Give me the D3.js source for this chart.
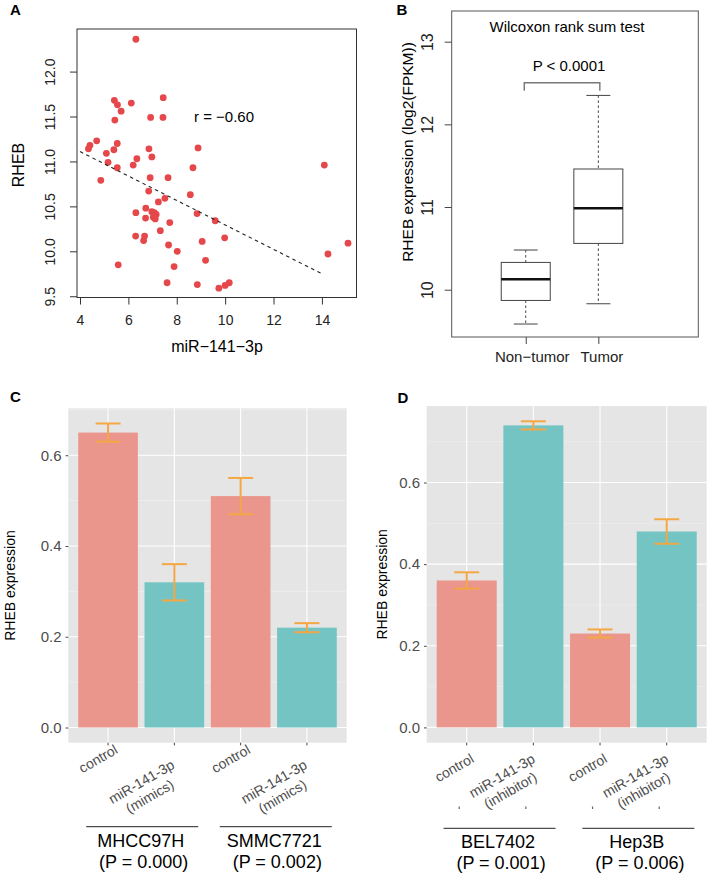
<!DOCTYPE html>
<html>
<head>
<meta charset="utf-8">
<script src="https://cdn.jsdelivr.net/npm/d3@7"></script>
<style>
  body { margin: 0; background: #fff; }
  svg { display: block; font-family: "Liberation Sans", Arial, Helvetica, sans-serif; }
</style>
</head>
<body>
<svg id="fig" width="710" height="876"></svg>
<script>
// ---- panel A: miR-141-3p vs RHEB scatter
const mirX = [6.31, 5.42, 5.55, 5.70, 5.44, 6.12, 7.44, 6.92, 7.43, 4.35, 4.41, 4.69, 5.09, 5.16, 5.40,
  5.54, 5.54, 4.86, 6.20, 6.35, 6.85, 6.97, 8.88, 8.67, 6.90, 7.64, 6.84, 8.56, 7.51, 7.24, 6.31, 6.72,
  6.71, 6.97, 7.07, 7.15, 7.03, 7.11, 7.71, 7.32, 8.84, 9.59, 6.30, 6.67, 6.63, 7.66, 8.02, 9.05, 9.98,
  9.19, 7.89, 5.58, 7.60, 8.85, 9.74, 10.00, 10.17, 14.10, 14.25, 15.08];
const rhebY = [12.36, 11.68, 11.63, 11.56, 11.46, 11.65, 11.71, 11.49, 11.49, 11.14, 11.18, 11.23, 11.09,
  10.99, 11.13, 11.20, 10.93, 10.79, 10.96, 11.03, 11.14, 11.05, 11.15, 10.93, 10.82, 10.82, 10.67, 10.63,
  10.59, 10.55, 10.43, 10.48, 10.37, 10.44, 10.43, 10.41, 10.38, 10.36, 10.32, 10.23, 10.42, 10.34, 10.17,
  10.17, 10.12, 10.07, 10.00, 10.11, 10.15, 9.90, 9.83, 9.85, 9.65, 9.63, 9.59, 9.62, 9.65, 10.96, 9.97, 10.09];
const fitLine = [[4, 11.11], [14, 9.75]];
const aTicksX = [4, 6, 8, 10, 12, 14];
const aTicksY = [9.5, 10, 10.5, 11, 11.5, 12];

// ---- panel B: boxplot
const boxGroups = ["Non\u2212tumor", "Tumor"];
const boxStats = [
  { lo: 9.585, q1: 9.87, med: 10.125, q3: 10.33, hi: 10.48 },
  { lo: 9.83, q1: 10.56, med: 10.985, q3: 11.46, hi: 12.35 }
];
const bTicksY = [10, 11, 12, 13];

// ---- panels C and D: bar charts
const cLabels = ["control", "miR-141-3p\n(mimics)", "control", "miR-141-3p\n(mimics)"];
const cValues = [0.65, 0.32, 0.51, 0.22];
const cErrors = [0.02, 0.04, 0.04, 0.01];
const cGroups = ["MHCC97H", "SMMC7721"];
const cPvals = ["(P = 0.000)", "(P = 0.002)"];

const dLabels = ["control", "miR-141-3p\n(inhibitor)", "control", "miR-141-3p\n(inhibitor)"];
const dValues = [0.36, 0.74, 0.23, 0.48];
const dErrors = [0.02, 0.01, 0.01, 0.03];
const dGroups = ["BEL7402", "Hep3B"];
const dPvals = ["(P = 0.001)", "(P = 0.006)"];

const barKind = ["control", "treat", "control", "treat"];
const barColor = { control: "#ea968d", treat: "#73c4c3" };
const errColor = "#f4a743";

const svg = d3.select("#fig");

function panelLetter(t, x, y) {
  svg.append("text").attr("x", x).attr("y", y).attr("font-size", 15)
    .attr("font-weight", "bold").text(t);
}

// ================= A =================
(function () {
  const L = 77, R = 356.5, T = 29, B = 297.5;
  const x = d3.scaleLinear().domain([3.876, 15.43]).range([L, R]);
  const y = d3.scaleLinear().domain([9.486, 12.474]).range([B, T]);
  const g = svg.append("g");

  g.selectAll("circle").data(mirX).join("circle")
    .attr("cx", d => x(d)).attr("cy", (d, i) => y(rhebY[i]))
    .attr("r", 3.4).attr("fill", "#e5474a");

  g.append("path").attr("d", d3.line().x(d => x(d[0])).y(d => y(d[1]))(fitLine))
    .attr("stroke", "#222").attr("stroke-width", 1.1).attr("stroke-dasharray", "3.5,3.5")
    .attr("fill", "none");

  g.append("rect").attr("x", L).attr("y", T).attr("width", R - L).attr("height", B - T)
    .attr("fill", "none").attr("stroke", "#333").attr("stroke-width", 1);

  const ax = g.append("g").attr("transform", `translate(0,${B})`)
    .call(d3.axisBottom(x).tickValues(aTicksX).tickSize(7).tickFormat(d3.format("d")));
  ax.select(".domain").remove();
  ax.selectAll("line").attr("stroke", "#333");
  ax.selectAll("text").attr("y", 27).attr("dy", 0).attr("font-size", 14)
    .attr("font-family", null).attr("fill", "#222");

  const ay = g.append("g").attr("transform", `translate(${L},0)`)
    .call(d3.axisLeft(y).tickValues(aTicksY).tickSize(7).tickFormat(d3.format(".1f")));
  ay.select(".domain").remove();
  ay.selectAll("line").attr("stroke", "#333");
  ay.selectAll("text").attr("x", 0).attr("y", 0).attr("dy", 0)
    .attr("text-anchor", "middle").attr("transform", "translate(-22,0) rotate(-90)")
    .attr("font-size", 14).attr("font-family", null).attr("fill", "#222");

  svg.append("text").attr("x", 217).attr("y", 352).attr("text-anchor", "middle")
    .attr("font-size", 16).text("miR\u2212141\u22123p");
  svg.append("text").attr("transform", "translate(24,165) rotate(-90)")
    .attr("text-anchor", "middle").attr("font-size", 16).text("RHEB");
  svg.append("text").attr("x", 194).attr("y", 122).attr("font-size", 15)
    .text("r = \u22120.60");
  panelLetter("A", 10, 15);
})();

// ================= B =================
(function () {
  const L = 451.7, R = 698.3, T = 11, B = 337;
  const x = d3.scaleLinear().domain([-0.02, 3.377]).range([L, R]);
  const y = d3.scaleLinear().domain([9.428, 13.371]).range([B, T]);
  const g = svg.append("g");
  const bw = 0.675, cw = 0.33;

  boxStats.forEach((s, i) => {
    const cx = x(i + 1);
    const hw = (x(bw) - x(0)) / 2, cwh = (x(cw) - x(0)) / 2;
    g.append("line").attr("x1", cx).attr("x2", cx).attr("y1", y(s.hi)).attr("y2", y(s.q3))
      .attr("stroke", "#444").attr("stroke-dasharray", "2.5,2.5");
    g.append("line").attr("x1", cx).attr("x2", cx).attr("y1", y(s.q1)).attr("y2", y(s.lo))
      .attr("stroke", "#444").attr("stroke-dasharray", "2.5,2.5");
    [s.hi, s.lo].forEach(v => g.append("line").attr("x1", cx - cwh).attr("x2", cx + cwh)
      .attr("y1", y(v)).attr("y2", y(v)).attr("stroke", "#444"));
    g.append("rect").attr("x", cx - hw).attr("width", 2 * hw)
      .attr("y", y(s.q3)).attr("height", y(s.q1) - y(s.q3))
      .attr("fill", "#fff").attr("stroke", "#444");
    g.append("line").attr("x1", cx - hw).attr("x2", cx + hw).attr("y1", y(s.med)).attr("y2", y(s.med))
      .attr("stroke", "#111").attr("stroke-width", 2.5);
  });

  g.append("rect").attr("x", L).attr("y", T).attr("width", R - L).attr("height", B - T)
    .attr("fill", "none").attr("stroke", "#555").attr("stroke-width", 1);

  const ax = g.append("g").attr("transform", `translate(0,${B})`)
    .call(d3.axisBottom(x).tickValues([1, 2]).tickSize(7).tickFormat((d, i) => boxGroups[i]));
  ax.select(".domain").remove();
  ax.selectAll("line").attr("stroke", "#444");
  ax.selectAll("text").attr("y", 25).attr("dy", 0).attr("font-size", 15)
    .attr("font-family", null).attr("fill", "#222")
    .attr("dx", (d, i) => i === 0 ? 6 : 3);

  const ay = g.append("g").attr("transform", `translate(${L},0)`)
    .call(d3.axisLeft(y).tickValues(bTicksY).tickSize(7).tickFormat(d3.format("d")));
  ay.select(".domain").remove();
  ay.selectAll("line").attr("stroke", "#444");
  ay.selectAll("text").attr("x", 0).attr("y", 0).attr("dy", 0)
    .attr("text-anchor", "middle").attr("transform", "translate(-18.5,0) rotate(-90)")
    .attr("font-size", 16).attr("font-family", null).attr("fill", "#222");

  // significance bracket
  const bx1 = x(1) - 1.5, bx2 = x(2) + 1.5, by = 82.7;
  g.append("path").attr("d", `M${bx1},${by + 8}V${by}H${bx2}V${by + 8}`)
    .attr("fill", "none").attr("stroke", "#777").attr("stroke-width", 1.4);
  g.append("text").attr("x", 569).attr("y", 70.5).attr("text-anchor", "middle")
    .attr("font-size", 15).text("P < 0.0001");
  g.append("text").attr("x", 567).attr("y", 31.5).attr("text-anchor", "middle")
    .attr("font-size", 15).text("Wilcoxon rank sum test");
  svg.append("text").attr("transform", "translate(413,152) rotate(-90)")
    .attr("text-anchor", "middle").attr("font-size", 15.5)
    .text("RHEB expression (log2(FPKM))");
  panelLetter("B", 396.5, 15);
})();

// ================= C & D =================
function barPanel(opt) {
  const { L, R, T, B, values, errors, labels, groups, pvals } = opt;
  const top = d3.max(values, (v, i) => v + errors[i]);
  const y = d3.scaleLinear().domain([-0.05 * top, top * 1.05]).range([B, T]);
  const x = d3.scaleBand().domain(d3.range(values.length)).range([L, R])
    .paddingInner(0.1).paddingOuter(0.15);
  const g = svg.append("g");

  g.append("rect").attr("x", L).attr("y", T).attr("width", R - L).attr("height", B - T)
    .attr("fill", "#e5e5e5");
  const major = [0, 0.2, 0.4, 0.6];
  const minor = [0.1, 0.3, 0.5, 0.7].filter(v => y(v) > T);
  g.selectAll(".minor").data(minor).join("line").attr("class", "minor")
    .attr("x1", L).attr("x2", R).attr("y1", d => y(d)).attr("y2", d => y(d))
    .attr("stroke", "#f2f2f2").attr("stroke-width", 0.6);
  g.selectAll(".major").data(major).join("line").attr("class", "major")
    .attr("x1", L).attr("x2", R).attr("y1", d => y(d)).attr("y2", d => y(d))
    .attr("stroke", "#fff").attr("stroke-width", 1.1);
  g.selectAll(".vgrid").data(d3.range(values.length)).join("line").attr("class", "vgrid")
    .attr("x1", d => x(d) + x.bandwidth() / 2).attr("x2", d => x(d) + x.bandwidth() / 2)
    .attr("y1", T).attr("y2", B).attr("stroke", "#fff").attr("stroke-width", 1.1);

  g.selectAll(".bar").data(values).join("rect").attr("class", "bar")
    .attr("x", (d, i) => x(i)).attr("width", x.bandwidth())
    .attr("y", d => y(d)).attr("height", d => y(0) - y(d))
    .attr("fill", (d, i) => barColor[barKind[i]]);

  const cap = 12.5;
  values.forEach((v, i) => {
    const cx = x(i) + x.bandwidth() / 2;
    const eg = g.append("g").attr("stroke", errColor).attr("stroke-width", 2);
    eg.append("line").attr("x1", cx).attr("x2", cx).attr("y1", y(v + errors[i])).attr("y2", y(v - errors[i]));
    [v + errors[i], v - errors[i]].forEach(e => eg.append("line")
      .attr("x1", cx - cap).attr("x2", cx + cap).attr("y1", y(e)).attr("y2", y(e)));
  });

  const ay = g.append("g").attr("transform", `translate(${L},0)`)
    .call(d3.axisLeft(y).tickValues(major).tickSize(2.7).tickPadding(4).tickFormat(d3.format(".1f")));
  ay.select(".domain").remove();
  ay.selectAll("line").attr("stroke", "#444");
  ay.selectAll("text").attr("font-size", 15).attr("font-family", null).attr("fill", "#4d4d4d");

  const axb = g.append("g").attr("transform", `translate(0,${B})`)
    .call(d3.axisBottom(x).tickSize(2.7).tickFormat(""));
  axb.select(".domain").remove();
  axb.selectAll("line").attr("stroke", "#444");

  // rotated category labels
  labels.forEach((lab, i) => {
    const cx = x(i) + x.bandwidth() / 2;
    const lines = lab.split("\n");
    const pos = lines.length === 1 ? opt.single : opt.double;
    const lg = svg.append("g")
      .attr("transform", `translate(${cx + pos[0]},${pos[1]}) rotate(-30)`);
    lines.forEach((ln, k) => lg.append("text").attr("x", 0).attr("y", k * 16.8)
      .attr("text-anchor", "middle").attr("font-size", 14).attr("fill", "#4d4d4d").text(ln));
    if (opt.dots) {
      svg.append("line").attr("x1", cx - 7.5).attr("x2", cx - 7.5)
        .attr("y1", opt.dots).attr("y2", opt.dots + 2.5).attr("stroke", "#666").attr("stroke-width", 1.2);
    }
  });

  // cell line groups
  groups.forEach((name, j) => {
    const c = (x(2 * j) + x(2 * j + 1) + x.bandwidth()) / 2 + opt.groupShift[j];
    svg.append("line").attr("x1", c - 56).attr("x2", c + 56)
      .attr("y1", opt.lineY).attr("y2", opt.lineY).attr("stroke", "#222").attr("stroke-width", 1);
    svg.append("text").attr("x", c - 1.5).attr("y", opt.lineY + 20).attr("text-anchor", "middle")
      .attr("font-size", 18).text(name);
    svg.append("text").attr("x", c + 1.5).attr("y", opt.lineY + 41).attr("text-anchor", "middle")
      .attr("font-size", 18).text(pvals[j]);
  });

  svg.append("text").attr("transform", `translate(${opt.titleX},${(T + B) / 2 + 10}) rotate(-90)`)
    .attr("text-anchor", "middle").attr("font-size", 14).text("RHEB expression");
}

barPanel({
  L: 68.3, R: 346.7, T: 408.3, B: 742.7,
  values: cValues, errors: cErrors, labels: cLabels, groups: cGroups, pvals: cPvals,
  single: [-7.5, 763], double: [-30.5, 786],
  lineY: 826.7, groupShift: [1, 2], titleX: 15
});
barPanel({
  L: 426.7, R: 706.7, T: 406, B: 742.7,
  values: dValues, errors: dErrors, labels: dLabels, groups: dGroups, pvals: dPvals,
  single: [-10, 772], double: [-29, 780], dots: 806.5,
  lineY: 828.3, groupShift: [-0.5, 5], titleX: 387
});
panelLetter("C", 10, 402);
panelLetter("D", 397.5, 403);
</script>
</body>
</html>
